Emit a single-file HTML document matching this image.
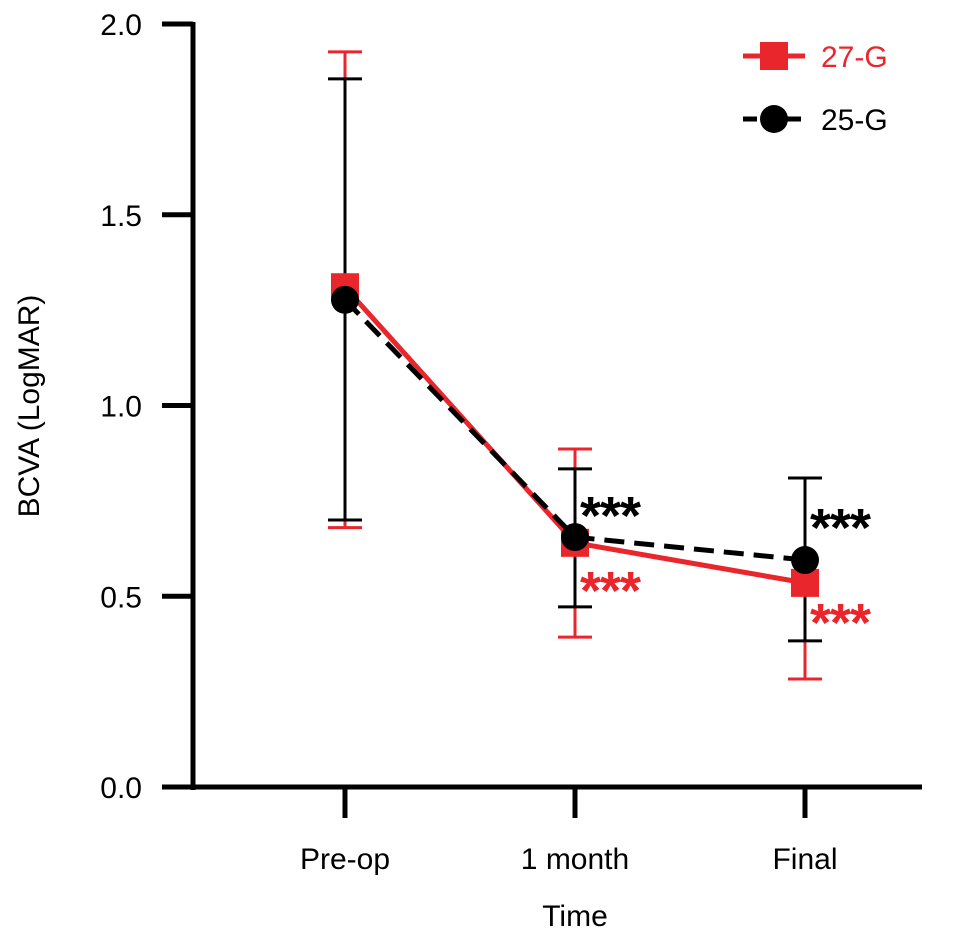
<!DOCTYPE html>
<html><head><meta charset="utf-8"><style>
body{margin:0;background:#fff;}
svg{display:block;font-family:"Liberation Sans",Arial,sans-serif;}
</style></head><body>
<svg id="chart" width="969" height="943" viewBox="0 0 969 943" xmlns="http://www.w3.org/2000/svg"></svg>
<script>
const categories = ["Pre-op","1 month","Final"];
const g27Mean = [1.31, 0.64, 0.535];
const g27Low = [0.68, 0.393, 0.283];
const g27High = [1.927, 0.886, 0.81];
const g25Mean = [1.277, 0.655, 0.595];
const g25Low = [0.70, 0.472, 0.383];
const g25High = [1.856, 0.834, 0.81];
const yTicks = [0, 0.5, 1.0, 1.5, 2.0];
const yTickLabels = ["0.0","0.5","1.0","1.5","2.0"];

const NS="http://www.w3.org/2000/svg";
const svg=document.getElementById('chart');
const y=v=>787-v*381.5;
const xPos=[345,575,805];
const x=i=>xPos[i];
function mk(tag,attrs,parent){const e=document.createElementNS(NS,tag);for(const k in attrs)e.setAttribute(k,attrs[k]);(parent||svg).appendChild(e);return e;}

let ax=mk('line',{x1:193,y1:22,x2:193,y2:790,stroke:'#000','stroke-width':5});


ax=mk('line',{x1:190,y1:787,x2:922,y2:787,stroke:'#000','stroke-width':5});


yTicks.forEach((v,i)=>{
  const t=mk('line',{x1:162,y1:y(v),x2:193,y2:y(v),stroke:'#000','stroke-width':5});
  
  
  const l=mk('text',{x:142,y:y(v)+11,'text-anchor':'end','font-size':30,fill:'#000'});
  l.textContent=yTickLabels[i];
  
  
});
categories.forEach((c,i)=>{
  const t=mk('line',{x1:x(i),y1:787,x2:x(i),y2:818,stroke:'#000','stroke-width':5});
  
  
  const l=mk('text',{x:x(i),y:869,'text-anchor':'middle','font-size':30,fill:'#000'});
  l.textContent=c;
  
  
});
let tt=mk('text',{x:575,y:926,'text-anchor':'middle','font-size':30,fill:'#000'});
tt.textContent='Time';


tt=mk('text',{x:0,y:0,'text-anchor':'middle','font-size':30,fill:'#000',transform:'translate(39,406) rotate(-90)'});
tt.textContent='BCVA (LogMAR)';



function errBars(low,high,color,name){
  categories.forEach((c,i)=>{
    const g=mk('g',{});
    
    
    mk('line',{x1:x(i),y1:y(low[i]),x2:x(i),y2:y(high[i]),stroke:color,'stroke-width':3},g);
    mk('line',{x1:x(i)-17,y1:y(low[i]),x2:x(i)+17,y2:y(low[i]),stroke:color,'stroke-width':3},g);
    mk('line',{x1:x(i)-17,y1:y(high[i]),x2:x(i)+17,y2:y(high[i]),stroke:color,'stroke-width':3},g);
  });
}
errBars(g27Low,g27High,'#e8262c','g27');
errBars(g25Low,g25High,'#000','g25');

let ln=mk('polyline',{points:g27Mean.map((v,i)=>x(i)+','+y(v)).join(' '),fill:'none',stroke:'#e8262c','stroke-width':5});


g27Mean.forEach((v,i)=>{
  const r=mk('rect',{x:x(i)-14,y:y(v)-14,width:28,height:28,fill:'#e8262c'});
  
  
});
ln=mk('polyline',{points:g25Mean.map((v,i)=>x(i)+','+y(v)).join(' '),fill:'none',stroke:'#000','stroke-width':5,'stroke-dasharray':'20 10'});


g25Mean.forEach((v,i)=>{
  const c=mk('circle',{cx:x(i),cy:y(v),r:14,fill:'#000'});
  
  
});

function stars(i,yy,color){
  const s=mk('text',{x:x(i)+5,y:yy,'font-size':54,'font-weight':'bold',fill:color,'letter-spacing':'-1'});
  s.textContent='***';
  
  
}
stars(1,y(g25Mean[1])-3,'#000');
stars(1,y(g27Mean[1])+66,'#e8262c');
stars(2,y(g25Mean[2])-14,'#000');
stars(2,y(g27Mean[2])+58,'#e8262c');

let lg=mk('g',{});


mk('line',{x1:743,y1:56,x2:805,y2:56,stroke:'#e8262c','stroke-width':5},lg);
mk('rect',{x:760,y:42,width:28,height:28,fill:'#e8262c'},lg);
let t=mk('text',{x:821,y:67,'font-size':30,fill:'#e8262c'},lg);t.textContent='27-G';
lg=mk('g',{});


mk('line',{x1:743,y1:119,x2:805,y2:119,stroke:'#000','stroke-width':5,'stroke-dasharray':'14 8'},lg);
mk('circle',{cx:774,cy:119,r:14,fill:'#000'},lg);
t=mk('text',{x:821,y:130,'font-size':30,fill:'#000'},lg);t.textContent='25-G';
</script>
</body></html>
